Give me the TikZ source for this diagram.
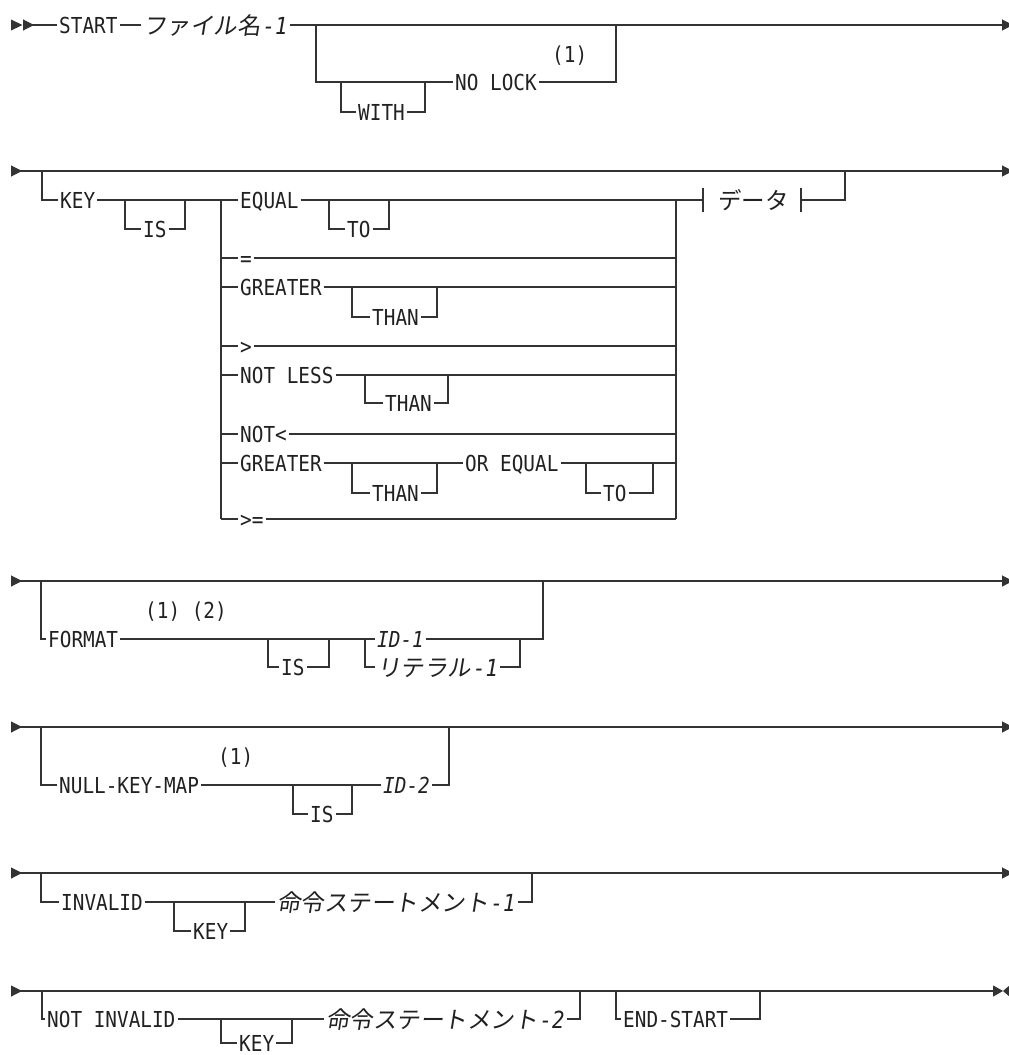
\documentclass[tikz,border=0pt]{standalone}
\usepackage{fontspec}
\newfontfamily\railfont[FakeStretch=0.88]{DejaVu Sans Mono}
\newfontfamily\cjkfont[FakeSlant=0.16]{Noto Sans CJK JP}
\newfontfamily\cjkupfont{Noto Sans CJK JP}
\usepackage{xcolor}
\definecolor{raildraw}{rgb}{0.20,0.20,0.20}
\definecolor{railtext}{rgb}{0.13,0.13,0.13}
\usetikzlibrary{arrows.meta}

\begin{document}
\begin{tikzpicture}[
  x=1pt, y=-1pt,
  every node/.style={inner sep=0pt},
  word/.style  ={anchor=west, inner xsep=2pt, inner ysep=0pt, text height=16pt, text depth=0pt, text=railtext, font=\fontsize{22}{26}\selectfont\railfont},
  var/.style   ={word, font=\fontsize{22}{26}\selectfont\railfont\itshape},
  jvar/.style  ={word, text height=18pt, font=\fontsize{23.5}{28}\selectfont\cjkfont},
  jfrag/.style ={word, text height=18pt, font=\fontsize{23.5}{28}\selectfont\cjkupfont},
  rail/.style  ={line width=1.1pt, draw=raildraw},
  railrow/.style ={rail, {Triangle[reversed,length=11pt,width=11pt]}-{Triangle[length=11pt,width=11pt]}}
]
\useasboundingbox[fill=white] (0,0) rectangle (1009,1055);

% row 1: START file-name
\coordinate (in1)  at (23,25);
\coordinate (out1) at (1013,25);
\node[word] (start) at (57,25)  {START};
\node[jvar] (file1) at (141,25) {ファイル名\kern2pt{\railfont\itshape -1}};
\coordinate (lock1) at (316,25);
\coordinate (lock2) at (616,25);
\node[word] (nolock) at (453,82) {NO LOCK};
\node[word] (note11) at (550,54) {(1)};
\coordinate (with1) at (341,82);
\coordinate (with2) at (425,82);
\node[word] (with) at (356,112) {WITH};

\fill[raildraw] (11,19.5) -- (22.5,25) -- (11,30.5) -- cycle;
\draw[rail, {Triangle[reversed,length=11pt,width=11pt]}-] (in1) -- (start.west);
\draw[rail] (start.east) -- (file1.west);
\draw[rail, -{Triangle[length=11pt,width=11pt]}] (file1.east) -- (out1);
\draw[rail] (lock1) |- (nolock.west);
\draw[rail] (nolock.east) -| (lock2);
\draw[rail] (with1) |- (with.west);
\draw[rail] (with.east) -| (with2);

% row 2: KEY IS relation data
\coordinate (in2)  at (11,171);
\coordinate (out2) at (1013,171);
\coordinate (key1) at (42,171);
\node[word] (key) at (58,200) {KEY};
\coordinate (is2a) at (125,200);
\coordinate (is2b) at (185,200);
\node[word] (is2) at (141,229) {IS};
\coordinate (opl)  at (221,200);
\coordinate (oplb) at (221,519);
\coordinate (opr)  at (676,200);
\coordinate (oprb) at (676,519);

\node[word] (eq)    at (238,200) {EQUAL};
\node[word] (to1)   at (345,229) {TO};
\coordinate (to1a) at (329,200);
\coordinate (to1b) at (389,200);
\node[word] (eqs)   at (238,258) {=};
\node[word] (gt)    at (238,287) {GREATER};
\node[word] (than1) at (370,317) {THAN};
\coordinate (than1a) at (352,287);
\coordinate (than1b) at (437,287);
\node[word] (gts)   at (238,346) {>};
\node[word] (nless) at (238,375) {NOT LESS};
\node[word] (than2) at (383,403) {THAN};
\coordinate (than2a) at (365,375);
\coordinate (than2b) at (448,375);
\node[word] (nlt)   at (238,434) {NOT<};
\node[word] (ge)    at (238,463) {GREATER};
\node[word] (than3) at (370,493) {THAN};
\coordinate (than3a) at (352,463);
\coordinate (than3b) at (437,463);
\node[word] (oreq)  at (463,463) {OR EQUAL};
\node[word] (to2)   at (601,493) {TO};
\coordinate (to2a) at (586,463);
\coordinate (to2b) at (653,463);
\node[word] (ges)   at (238,519) {>=};

\coordinate (tick1a) at (703,188);
\coordinate (tick1b) at (703,212);
\coordinate (tick2a) at (801,188);
\coordinate (tick2b) at (801,212);
\coordinate (tick1) at (703,200);
\coordinate (tick2) at (801,200);
\node[jfrag] (data) at (716,200) {データ};
\coordinate (frag) at (845,171);

\draw[railrow] (in2) -- (out2);
\draw[rail] (key1) |- (key.west);
\draw[rail] (key.east) -- (eq.west);
\draw[rail] (is2a) |- (is2.west);
\draw[rail] (is2.east) -| (is2b);
\draw[rail] (opl) -- (oplb);
\draw[rail] (opr) -- (oprb);

\draw[rail] (eq.east) -- (opr);
\draw[rail] (to1a) |- (to1.west);
\draw[rail] (to1.east) -| (to1b);
\foreach \op in {eqs,gt,gts,nless,nlt,ges}{
  \draw[rail] (opl |- \op.west) -- (\op.west);
}
\draw[rail] (eqs.east) -- (opr |- eqs.east);
\draw[rail] (gt.east) -- (opr |- gt.east);
\draw[rail] (than1a) |- (than1.west);
\draw[rail] (than1.east) -| (than1b);
\draw[rail] (gts.east) -- (opr |- gts.east);
\draw[rail] (nless.east) -- (opr |- nless.east);
\draw[rail] (than2a) |- (than2.west);
\draw[rail] (than2.east) -| (than2b);
\draw[rail] (nlt.east) -- (opr |- nlt.east);
\draw[rail] (opl |- ge.west) -- (ge.west);
\draw[rail] (ge.east) -- (oreq.west);
\draw[rail] (than3a) |- (than3.west);
\draw[rail] (than3.east) -| (than3b);
\draw[rail] (oreq.east) -- (opr |- oreq.east);
\draw[rail] (to2a) |- (to2.west);
\draw[rail] (to2.east) -| (to2b);
\draw[rail] (ges.east) -- (oprb);

\draw[rail] (opr) -- (tick1);
\draw[rail] (tick1a) -- (tick1b);
\draw[rail] (tick2a) -- (tick2b);
\draw[rail] (tick2) -| (frag);

% row 3: FORMAT
\coordinate (in3)  at (11,581);
\coordinate (out3) at (1013,581);
\coordinate (fmt1) at (41,581);
\coordinate (fmt2) at (543,581);
\node[word] (fmt)   at (46,639)  {FORMAT};
\node[word] (note3) at (143,610) {(1) (2)};
\coordinate (is3a) at (268,639);
\coordinate (is3b) at (329,639);
\node[word] (is3) at (279,667) {IS};
\coordinate (id1a) at (365,639);
\coordinate (id1c) at (520,639);
\node[var]  (id1)  at (375,639) {ID-1};
\node[jvar] (lit1) at (375,667) {リテラル\kern2pt{\railfont\itshape -1}};

\draw[railrow] (in3) -- (out3);
\draw[rail] (fmt1) |- (fmt.west);
\draw[rail] (fmt.east) -- (id1.west);
\draw[rail] (is3a) |- (is3.west);
\draw[rail] (is3.east) -| (is3b);
\draw[rail] (id1a) |- (lit1.west);
\draw[rail] (lit1.east) -| (id1c);
\draw[rail] (id1.east) -| (fmt2);

% row 4: NULL-KEY-MAP
\coordinate (in4)  at (11,727);
\coordinate (out4) at (1013,727);
\coordinate (nkm1) at (41,727);
\coordinate (nkm2) at (449,727);
\node[word] (nkm)   at (57,785)  {NULL-KEY-MAP};
\node[word] (note4) at (216,756) {(1)};
\coordinate (is4a) at (293,785);
\coordinate (is4b) at (352,785);
\node[word] (is4) at (308,814) {IS};
\node[var]  (id2) at (381,785) {ID-2};

\draw[railrow] (in4) -- (out4);
\draw[rail] (nkm1) |- (nkm.west);
\draw[rail] (nkm.east) -- (id2.west);
\draw[rail] (is4a) |- (is4.west);
\draw[rail] (is4.east) -| (is4b);
\draw[rail] (id2.east) -| (nkm2);

% row 5: INVALID KEY
\coordinate (in5)  at (11,873);
\coordinate (out5) at (1013,873);
\coordinate (inv1) at (41,873);
\coordinate (inv2) at (532,873);
\node[word] (inv) at (59,902) {INVALID};
\coordinate (key5a) at (174,902);
\coordinate (key5b) at (245,902);
\node[word] (key5) at (191,931) {KEY};
\node[jvar] (stmt1) at (275,902) {命令ステートメント\kern2pt{\railfont\itshape -1}};

\draw[railrow] (in5) -- (out5);
\draw[rail] (inv1) |- (inv.west);
\draw[rail] (inv.east) -- (stmt1.west);
\draw[rail] (key5a) |- (key5.west);
\draw[rail] (key5.east) -| (key5b);
\draw[rail] (stmt1.east) -| (inv2);

% row 6: NOT INVALID KEY, END-START
\coordinate (in6)  at (11,991);
\coordinate (out6) at (1003,991);
\coordinate (ninv1) at (42,991);
\coordinate (ninv2) at (580,991);
\node[word] (ninv) at (45,1019) {NOT INVALID};
\coordinate (key6a) at (221,1019);
\coordinate (key6b) at (292,1019);
\node[word] (key6) at (237,1043) {KEY};
\node[jvar] (stmt2) at (324,1019) {命令ステートメント\kern2pt{\railfont\itshape -2}};
\coordinate (end1) at (616,991);
\coordinate (end2) at (760,991);
\node[word] (endst) at (621,1019) {END-START};

\draw[rail, {Triangle[reversed,length=11pt,width=11pt]}-{Triangle[length=10pt,width=11pt]}] (in6) -- (out6);
\fill[raildraw] (1010,985) -- (1003,991) -- (1010,997) -- cycle;
\draw[rail] (ninv1) |- (ninv.west);
\draw[rail] (ninv.east) -- (stmt2.west);
\draw[rail] (key6a) |- (key6.west);
\draw[rail] (key6.east) -| (key6b);
\draw[rail] (stmt2.east) -| (ninv2);
\draw[rail] (end1) |- (endst.west);
\draw[rail] (endst.east) -| (end2);

\end{tikzpicture}
\end{document}
